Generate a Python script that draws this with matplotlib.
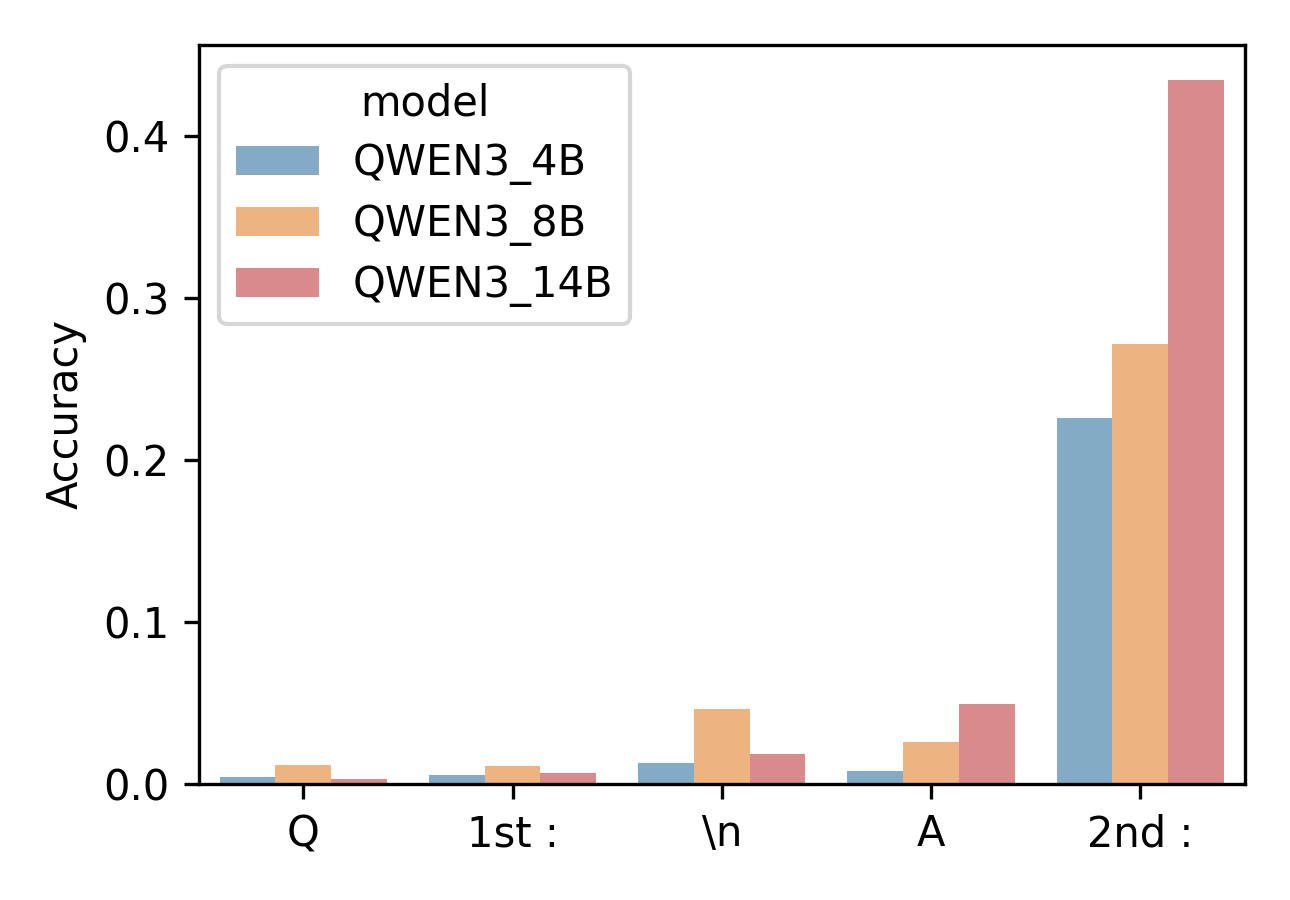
import numpy as np
import pandas as pd
import matplotlib
matplotlib.use("Agg")
import matplotlib.pyplot as plt
import seaborn as sns

positions = ["Q", "1st :", "\\n", "A", "2nd :"]
models = ["QWEN3_4B", "QWEN3_8B", "QWEN3_14B"]
acc_4b = [0.004, 0.0055, 0.013, 0.008, 0.226]
acc_8b = [0.0117, 0.011, 0.0463, 0.026, 0.2716]
acc_14b = [0.003, 0.0068, 0.0185, 0.0494, 0.4346]

rows = []
for m, vals in zip(models, [acc_4b, acc_8b, acc_14b]):
    for p, v in zip(positions, vals):
        rows.append({"position": p, "model": m, "Accuracy": v})
df = pd.DataFrame(rows)

fig, ax = plt.subplots(figsize=(4.3, 3), dpi=300)
sns.barplot(data=df, x="position", y="Accuracy", hue="model", alpha=0.6, ax=ax,
            order=positions, hue_order=models,
            palette=["tab:blue", "tab:orange", "tab:red"])
ax.set_xlabel("")
sns.move_legend(ax, "upper left", labelspacing=0.43)
fig.subplots_adjust(left=0.154, right=0.965, top=0.95, bottom=0.129)
fig.savefig("out.png", dpi=300)
